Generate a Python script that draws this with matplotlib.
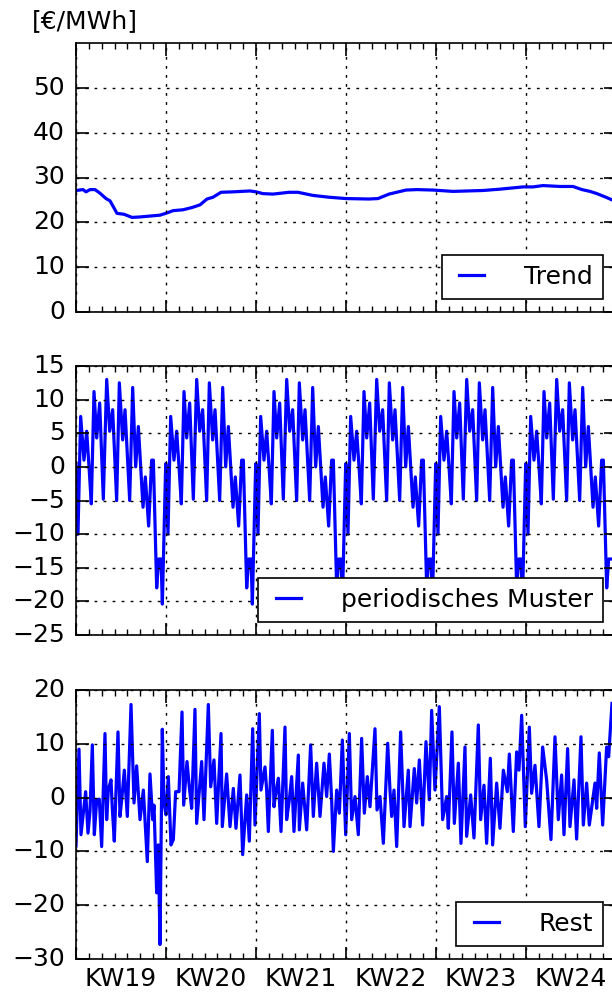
import matplotlib
matplotlib.use("Agg")
import matplotlib.pyplot as plt
import numpy as np

# ---------------- data (hours since start of KW19) ----------------
trend_hours = [0, 13.1, 18.7, 26.1, 35.5, 44.8, 56.0, 63.5, 76.5, 89.6, 104.5, 119.5,
               138.1, 156.8, 169.9, 181.1, 199.7, 216.5, 231.5, 244.5, 255.7, 270.7,
               293.1, 324.8, 336.0, 349.1, 367.7, 397.6, 414.4, 442.4, 472.3, 504.0,
               546.9, 563.7, 584.3, 616.0, 636.5, 666.4, 703.7, 759.7, 791.5, 834.4,
               853.1, 871.7, 903.5, 927.7, 944.5, 959.5, 972.5, 991.2, 1000.5]
trend_vals = [27.1, 27.3, 26.8, 27.3, 27.3, 26.5, 25.3, 24.8, 22.0, 21.8, 21.1, 21.2,
              21.4, 21.6, 22.1, 22.6, 22.8, 23.3, 23.9, 25.2, 25.6, 26.7,
              26.8, 27.0, 26.8, 26.4, 26.3, 26.7, 26.7, 26.0, 25.6, 25.3,
              25.2, 25.3, 26.3, 27.2, 27.3, 27.2, 26.9, 27.1, 27.4, 27.9,
              27.9, 28.2, 28.0, 28.0, 27.3, 26.9, 26.4, 25.5, 25.0]

# one week of the periodic pattern (hour of week, value)
week_hours = [0.0, 3.7, 8.7, 14.9, 19.9, 24.3, 28.6, 33.6, 38.6, 44.2, 51.0, 57.3,
              62.9, 68.4, 75.9, 80.9, 87.1, 91.5, 100.2, 105.8, 111.4, 116.4,
              125.1, 129.4, 135.6, 141.2, 144.4, 150.6, 154.3, 158.7, 161.2, 167.4]
week_vals = [0.5, -10.0, 7.5, 1.0, 5.3, 0.0, -5.5, 11.2, 4.3, 9.5, -4.8, 13.0,
             5.3, 8.5, -5.0, 12.5, 4.0, 8.5, -5.0, 11.8, 0.0, 6.0,
             -6.0, -1.5, -8.8, 1.0, 1.0, -18.0, -13.7, -13.7, -20.4, 0.4]
n_weeks = 6
end_hour = 1000.5

rest_hours = [0, 5.6, 9.3, 13.7, 18.0, 22.4, 26.1, 30.5, 34.2, 38.6, 43.5, 47.9, 54.1,
              57.2, 60.3, 65.3, 67.8, 71.5, 78.4, 82.1, 85.9, 90.2, 95.8, 102.7, 108.3,
              113.2, 119.5, 125.7, 133.1, 138.1, 143.1, 145.6, 150.6, 153.7, 156.8,
              161.1, 164.3, 168.0, 172.3, 177.3, 181.7, 186.0, 192.3, 197.9, 201.0,
              207.2, 211.5, 215.9, 222.1, 225.2, 234.6, 238.9, 247.0, 251.4, 257.6,
              262.6, 270.7, 273.1, 281.2, 287.5, 293.7, 298.6, 306.1, 311.1, 318.6,
              323.5, 329.8, 334.1, 342.2, 345.3, 352.8, 355.9, 359.0, 366.5, 369.6,
              371.5, 377.7, 382.7, 390.1, 393.2, 398.2, 402.6, 406.9, 415.0, 416.9,
              423.1, 430.6, 438.0, 443.0, 449.2, 455.5, 462.9, 467.9, 472.9, 477.2,
              480.4, 486.6, 491.6, 497.2, 503.4, 510.2, 514.6, 520.8, 527.0, 533.2,
              538.2, 543.8, 548.8, 558.1, 561.9, 567.5, 573.7, 581.8, 586.1, 589.2,
              593.6, 598.6, 606.0, 612.3, 620.3, 623.5, 631.5, 635.9, 640.9, 647.1,
              653.3, 659.5, 663.9, 670.1, 678.2, 684.4, 691.9, 695.0, 701.8, 706.2,
              713.7, 718.6, 726.1, 729.2, 736.7, 742.9, 751.0, 755.3, 761.6, 766.5,
              773.4, 777.7, 785.2, 791.4, 797.7, 805.1, 808.9, 816.3, 822.5, 826.9,
              831.9, 838.7, 846.2, 850.5, 856.8, 864.2, 871.1, 878.5, 886.6, 894.1,
              900.3, 906.5, 910.9, 917.7, 922.1, 929.6, 934.5, 942.6, 947.0, 953.2,
              958.2, 968.8, 971.9, 976.8, 983.1, 990.5, 994.3, 1000.5]
rest_vals = [-9.0, 9.0, -6.9, -2.9, 1.1, -6.6, -2.6, 9.8, -6.9, -0.4, -0.3, -9.1, 11.9,
             -4.1, 1.4, 3.3, -2.0, -8.1, 12.2, -3.5, 0.2, 5.1, -3.5, 17.3, -1.0,
             5.9, -4.1, 1.4, -11.9, 4.4, -4.1, -1.4, -17.7, -8.8, -27.3,
             12.7, -1.0, -3.2, 3.9, -8.8, -7.8, 1.1, 1.1, 15.9, -1.4,
             6.7, 2.0, -2.0, 16.4, -4.8, 6.7, -4.1, 17.3, 2.0, 7.0,
             -4.8, 11.9, -5.4, 4.4, -5.4, 1.7, -5.7, 4.2, -10.6, 0.5,
             -8.1, 12.8, -5.1, 15.6, 1.4, 5.7, 1.4, -6.3, 12.5, -1.7,
             -0.1, 3.6, -6.3, 13.1, -4.1, -0.4, 3.9, -6.3, 7.9, -6.0,
             2.7, -6.0, 9.8, -3.5, 6.4, -3.5, 6.4, 0.2, 8.1, -0.4,
             -10.0, 1.4, -2.9, 10.7, -6.9, 11.9, -4.1, 0.2, -6.9, 11.0,
             -2.9, 3.9, -1.7, 12.8, -2.3, 0.2, -8.5, 10.1, 1.4, -3.5,
             1.4, -9.1, 12.2, -5.4, 5.1, -5.4, 5.4, -1.0, 7.0, -5.1,
             10.4, -0.4, 16.2, 1.4, 16.9, -4.1, 0.2, -5.7, 12.2, -4.8,
             6.4, -8.5, 9.4, -7.2, 0.5, -7.5, 13.5, -4.1, 2.3, -8.5,
             7.3, -8.8, 2.7, -5.7, 5.1, 1.1, 8.1, -6.3, 8.5, 5.1,
             15.3, -5.4, 13.1, 0.8, 6.0, -5.4, 9.4, 3.3, -7.8, 11.3,
             -4.1, 4.2, -6.9, 9.1, -5.4, 3.3, -7.7, 11.3, -5.1, 2.7,
             -5.1, 2.7, -2.0, 8.3, -5.1, 9.4, 7.6, 17.5]

week_labels = ["KW19", "KW20", "KW21", "KW22", "KW23", "KW24"]
unit_label = "[€/MWh]"

# periodic component: the weekly pattern repeated for each week shown
per_hours, per_vals = [], []
for k in range(n_weeks):
    for h, v in zip(week_hours, week_vals):
        if h + 168 * k <= end_hour:
            per_hours.append(h + 168 * k)
            per_vals.append(v)

# ---------------- style ----------------
FS = 18
plt.style.use("classic")
plt.rcParams.update({
    "figure.facecolor": "white",
    "savefig.facecolor": "white",
    "font.family": ["DejaVu Sans"],
    "font.size": FS,
    "lines.scale_dashes": False,
    "axes.linewidth": 1.2,
})

fig = plt.figure(figsize=(6.12, 9.94), dpi=100)
W, H = 612.0, 994.0
left = 76 / W
width = 540 / W
tops = [43, 366, 690]
ax_h = 269 / H

series = [
    (trend_hours, trend_vals, "Trend", (0, 60), np.arange(0, 51, 10)),
    (per_hours, per_vals, "periodisches Muster", (-25, 15), np.arange(-25, 16, 5)),
    (rest_hours, rest_vals, "Rest", (-30, 20), np.arange(-30, 21, 10)),
]

axes = []
for i, (xs, ys, lab, ylim, yt) in enumerate(series):
    bottom = 1 - (tops[i] + 269) / H
    ax = fig.add_axes([left, bottom, width, ax_h])
    ax.plot(xs, ys, color=(0, 0, 1), lw=2.3, label=lab)
    ax.set_xlim(0, 168 * n_weeks)
    ax.set_ylim(*ylim)
    ax.set_yticks(yt)
    ax.set_xticks(np.arange(0, 168 * n_weeks + 1, 168))
    ax.set_xticklabels([])
    ax.set_xticks(np.arange(0, 168 * n_weeks + 1, 24), minor=True)
    ax.yaxis.set_minor_locator(matplotlib.ticker.NullLocator())
    ax.grid(True, which="major", color="k", linestyle=(0, (2, 4.5)), linewidth=1.0)
    ax.tick_params(which="major", direction="in", length=9, width=1.2,
                   top=True, right=True, labelsize=FS)
    ax.tick_params(which="minor", direction="in", length=4, width=1.0,
                   top=True, right=True)
    ax.tick_params(axis="y", pad=8)
    leg = ax.legend(loc="lower right", fontsize=FS, handlelength=1.6,
                    handletextpad=1.3, borderpad=0.4, borderaxespad=0.52,
                    numpoints=2, fancybox=False)
    leg.get_frame().set_linewidth(1.2)
    axes.append(ax)

# week labels centred in each week below the last panel
for k, lab in enumerate(week_labels):
    axes[-1].text(84 + 168 * k, -0.028, lab, transform=axes[-1].get_xaxis_transform(),
                  ha="center", va="top", fontsize=FS)

fig.text(32 / W, 1 - 21 / H, unit_label, ha="left", va="center", fontsize=FS)

fig.savefig("out.png", dpi=100)
